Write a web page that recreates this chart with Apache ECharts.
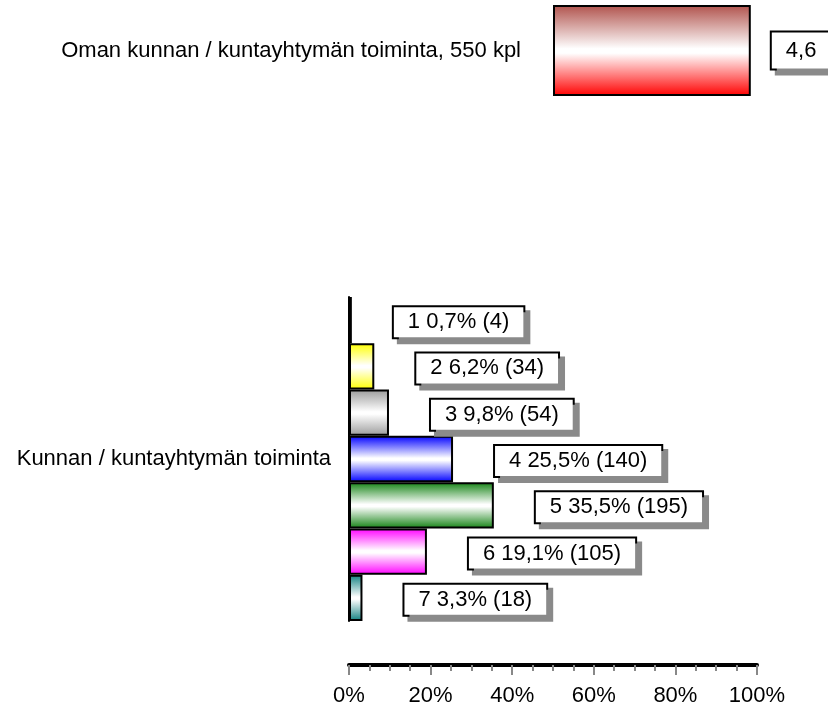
<!DOCTYPE html>
<html>
<head>
<meta charset="utf-8">
<style>
  html, body { margin: 0; padding: 0; background: #fff; }
  #chart { width: 828px; height: 708px; }
</style>
<script src="https://cdn.jsdelivr.net/npm/echarts@6/dist/echarts.min.js"></script>
</head>
<body>
<div id="chart"></div>
<script>
// mean value row
const meanLabel = 'Oman kunnan / kuntayhtymän toiminta, 550 kpl'
const meanValue = 4.6
const meanScaleMax = 7

// distribution rows
const groupLabel = 'Kunnan / kuntayhtymän toiminta'
const categories = ['1', '2', '3', '4', '5', '6', '7']
const percents = [0.7, 6.2, 9.8, 25.5, 35.5, 19.1, 3.3]
const counts = [4, 34, 54, 140, 195, 105, 18]

const barColors = ['#ff0000', '#ffff00', '#9a9a9a', '#0000ff', '#138213', '#ff00ff', '#0f7f7f']
const FONT = 'Liberation Sans, Arial, sans-serif'

function fmt(v) {
  return v.toFixed(1).replace('.', ',')
}

function shade(color, top) {
  return new echarts.graphic.LinearGradient(0, 0, 0, 1, [
    { offset: 0, color: top || color },
    { offset: 0.48, color: '#ffffff' },
    { offset: 0.53, color: '#ffffff' },
    { offset: 1, color: color }
  ])
}

const boxLabel = {
  show: true,
  position: 'right',
  color: '#000',
  fontFamily: FONT,
  fontSize: 22,
  lineHeight: 22,
  backgroundColor: '#fff',
  borderColor: '#000',
  borderWidth: 2,
  shadowColor: '#8a8a8a',
  shadowBlur: 0,
  shadowOffsetX: 5,
  shadowOffsetY: 5
}

const chart = echarts.init(document.getElementById('chart'))

chart.setOption({
  animation: false,
  backgroundColor: '#fff',
  grid: [
    { left: 553, top: 5, width: 301, height: 91, outerBoundsMode: 'none' },
    { left: 349, top: 297, width: 408, height: 324, outerBoundsMode: 'none' }
  ],
  xAxis: [
    {
      gridIndex: 0,
      type: 'value',
      min: 0,
      max: meanScaleMax,
      show: false
    },
    {
      gridIndex: 1,
      type: 'value',
      min: 0,
      max: 100,
      interval: 20,
      offset: 44,
      axisLine: { show: true, lineStyle: { color: '#000', width: 4 } },
      axisTick: { show: true, length: 10, lineStyle: { color: '#888', width: 2 } },
      minorTick: { show: true, splitNumber: 4, length: 6, lineStyle: { color: '#888', width: 2 } },
      splitLine: { show: false },
      axisLabel: {
        color: '#000',
        fontFamily: FONT,
        fontSize: 22,
        margin: 20,
        formatter: '{value}%'
      }
    }
  ],
  yAxis: [
    {
      gridIndex: 0,
      type: 'category',
      data: [meanLabel],
      axisLine: { show: false },
      axisTick: { show: false },
      axisLabel: {
        color: '#000',
        fontFamily: FONT,
        fontSize: 22,
        margin: 32
      }
    },
    {
      gridIndex: 1,
      type: 'category',
      position: 'left',
      data: categories,
      inverse: true,
      axisLine: { show: true, lineStyle: { color: '#000', width: 2 } },
      axisTick: { show: false },
      axisLabel: { show: false }
    },
    {
      gridIndex: 1,
      type: 'category',
      position: 'left',
      data: [groupLabel],
      axisLine: { show: false },
      axisTick: { show: false },
      axisLabel: {
        color: '#000',
        fontFamily: FONT,
        fontSize: 22,
        margin: 18
      }
    }
  ],
  series: [
    {
      type: 'bar',
      xAxisIndex: 0,
      yAxisIndex: 0,
      barWidth: '100%',
      data: [meanValue],
      itemStyle: {
        color: shade('#ff0000', '#b0524c'),
        borderColor: '#000',
        borderWidth: 2
      },
      label: Object.assign({}, boxLabel, {
        distance: 21,
        padding: [7, 14],
        formatter: (p) => fmt(p.value)
      })
    },
    {
      type: 'bar',
      xAxisIndex: 1,
      yAxisIndex: 1,
      barCategoryGap: '0%',
      data: percents.map((v, i) => ({
        value: v,
        itemStyle: { color: shade(barColors[i]) }
      })),
      itemStyle: {
        borderColor: '#000',
        borderWidth: 2
      },
      label: Object.assign({}, boxLabel, {
        distance: 42,
        padding: [4, 14],
        offset: [0, 2],
        formatter: (p) => categories[p.dataIndex] + ' ' + fmt(p.value) + '% (' + counts[p.dataIndex] + ')'
      })
    }
  ]
})
</script>
</body>
</html>
